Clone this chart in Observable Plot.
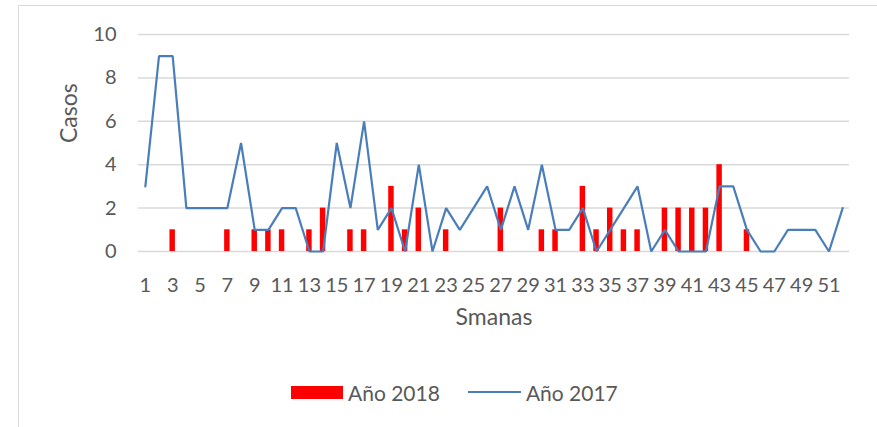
<!DOCTYPE html>
<html>
<head>
<meta charset="utf-8">
<script src="https://cdn.jsdelivr.net/npm/d3@7"></script>
<script src="https://cdn.jsdelivr.net/npm/@observablehq/plot@0.6"></script>
<style>
  html, body { margin: 0; padding: 0; background: #fff; }
  body { width: 877px; height: 427px; position: relative; overflow: hidden; font-family: Lato, "Open Sans", sans-serif; }
  #frame { position: absolute; left: 18px; top: 5px; width: 860px; height: 440px; border-left: 1.5px solid #d9d9d9; border-top: 1.5px solid #d9d9d9; box-sizing: border-box; }
  #chart { position: absolute; left: 0; top: 0; }
  #legend { position: absolute; left: 291px; top: 380px; height: 24px; display: flex; align-items: center; color: #595959; font-size: 21px; }
  .sw-bar { width: 52px; height: 13px; background: #ff0000; margin-right: 5px; }
  .sw-line { width: 53px; height: 2px; background: #4a7ebb; margin-left: 28px; margin-right: 5px; }
</style>
</head>
<body>
<div id="frame"></div>
<div id="chart"></div>
<div id="legend">
  <div class="sw-bar"></div><span>Año 2018</span>
  <div class="sw-line"></div><span>Año 2017</span>
</div>
<script>
const weeks = d3.range(1, 53);
const casos2017 = [3,9,9,2,2,2,2,5,1,1,2,2,0,0,5,2,6,1,2,0,4,0,2,1,2,3,1,3,1,4,1,1,2,0,1,2,3,0,1,0,0,0,3,3,1,0,0,1,1,1,0,2];
const bars2018Weeks = [3,7,9,10,11,13,14,16,17,19,20,21,23,27,30,31,33,34,35,36,37,39,40,41,42,43,45];
const bars2018Values = [1,1,1,1,1,1,2,1,1,3,1,2,1,2,1,1,3,1,2,1,1,2,2,2,2,4,1];
const xTickLabels = d3.range(1, 53, 2);
const yTicks = [0, 2, 4, 6, 8, 10];

const lineData = weeks.map((w, i) => ({semana: w, casos: casos2017[i]}));
const barData = bars2018Weeks.map((w, i) => ({semana: w, casos: bars2018Values[i]}));
const half = 0.2;

const textColor = "#595959";

const chart = Plot.plot({
  width: 877,
  height: 427,
  marginLeft: 138,
  marginRight: 28,
  marginTop: 34,
  marginBottom: 176,
  style: {fontFamily: "Lato, 'Open Sans', sans-serif", fontSize: "20px", color: textColor, background: "transparent"},
  x: {type: "linear", domain: [0.5, 52.5], ticks: xTickLabels, tickFormat: d => String(d), label: null},
  y: {domain: [0, 10], ticks: yTicks, label: null},
  marks: [
    Plot.ruleY(yTicks, {stroke: "#d9d9d9", strokeWidth: 1.5}),
    Plot.rectY(barData, {x1: d => d.semana - half, x2: d => d.semana + half, y: "casos", fill: "#ff0000"}),
    Plot.line(lineData, {x: "semana", y: "casos", stroke: "#4a7ebb", strokeWidth: 2.2, strokeLinejoin: "miter"}),
    Plot.axisX({ticks: xTickLabels, tickSize: 0, tickPadding: 26, fontSize: 20, fill: textColor, label: null, tickFormat: d => String(d)}),
    Plot.axisY({ticks: yTicks, tickSize: 0, tickPadding: 22, fontSize: 20, fill: textColor, label: null}),
    Plot.text(["Casos"], {frameAnchor: "left", dx: -69, rotate: -90, fontSize: 23, fill: textColor, text: d => d}),
    Plot.text(["Smanas"], {frameAnchor: "bottom", dy: 73, fontSize: 23, fill: textColor, text: d => d})
  ]
});
document.getElementById("chart").appendChild(chart);
</script>
</body>
</html>
